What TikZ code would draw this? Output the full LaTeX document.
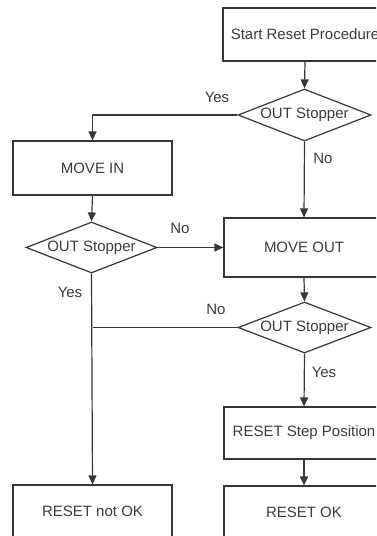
\documentclass[tikz,border=0pt]{standalone}
\usepackage{fontspec}
\setmainfont{Liberation Sans}
\usetikzlibrary{shapes.geometric,arrows.meta}
\definecolor{linec}{RGB}{55,55,55}
\definecolor{textc}{RGB}{60,60,60}
\tikzset{
  base/.style={draw=linec, line width=1.2pt, fill=white, text=textc, inner sep=0pt,
    font=\fontsize{15}{18}\selectfont},
  boxnode/.style={base, rectangle, minimum width=#1, minimum height=53pt},
  boxnode/.default=160pt,
  decision/.style={base, diamond, aspect=2.55, minimum width=133pt, minimum height=52pt},
  conn/.style={draw=linec, line width=1.2pt},
  arr/.style={conn, -{Triangle[length=9pt,width=8pt]}},
  lbl/.style={text=textc, inner sep=0pt, font=\fontsize{15}{18}\selectfont}
}
\begin{document}
\begin{tikzpicture}[x=1pt,y=-1pt]
\useasboundingbox (0,0) rectangle (376,536);
\clip (0,0) rectangle (376,536);
\fill[white] (0,0) rectangle (376,536);

\node[boxnode=164pt] (start) at (305,34.5) {Start Reset Procedure};
\node[decision] (d1) at (304.5,115) {OUT Stopper};
\node[boxnode=159pt, minimum height=54pt] (movein) at (92.5,168) {MOVE IN};
\node[decision, minimum width=131pt, minimum height=51pt] (d2) at (91.5,247.5) {OUT Stopper};
\node[boxnode=160pt, minimum height=59pt] (moveout) at (304,247.5) {MOVE OUT};
\node[decision, minimum height=51pt] (d3) at (304.5,327.5) {OUT Stopper};
\node[boxnode=160pt, minimum height=52pt] (resetstep) at (304,433) {RESET Step Position};
\node[boxnode=159pt, minimum height=52pt] (notok) at (92.5,511) {RESET not OK};
\node[boxnode=160pt, minimum height=52pt] (ok) at (304,512) {RESET OK};

\coordinate (c1) at (92.5,115);
\coordinate (c3) at (92.5,327.5);

\draw[arr] (start.south) -- (d1.north);
\draw[arr] (d1.west) -- (c1) -- (movein.north);
\draw[arr] (d1.south) -- (moveout.north);
\draw[arr] (movein.south) -- (d2.north);
\draw[arr] (d2.east) -- (moveout.west);
\draw[arr] (d2.south) -- (notok.north);
\draw[arr] (moveout.south) -- (d3.north);
\draw[conn] (d3.west) -- (c3);
\draw[arr] (d3.south) -- (resetstep.north);
\draw[arr] (resetstep.south) -- (ok.north);

\node[lbl] (y1) at (217,97) {Yes};
\node[lbl] (n1) at (323,158) {No};
\node[lbl] (n2) at (180,228) {No};
\node[lbl] (y2) at (70,292) {Yes};
\node[lbl] (n3) at (216,309) {No};
\node[lbl] (y3) at (324,372) {Yes};
\end{tikzpicture}
\end{document}
